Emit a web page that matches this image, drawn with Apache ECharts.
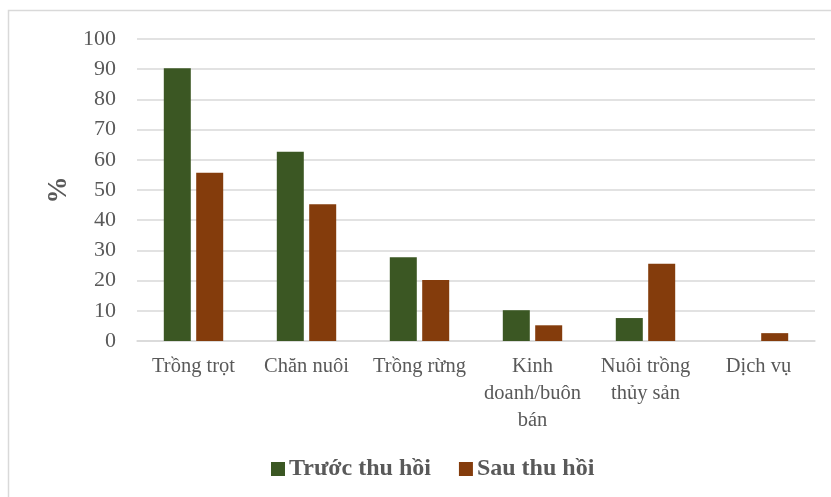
<!DOCTYPE html>
<html>
<head>
<meta charset="utf-8">
<script src="https://cdn.jsdelivr.net/npm/echarts@6/dist/echarts.min.js"></script>
<style>
  html, body { margin: 0; padding: 0; background: #fff; }
  #main { width: 831px; height: 497px; }
</style>
</head>
<body>
<div id="main"></div>
<script>
// dữ liệu
var categories = ['Trồng trọt', 'Chăn nuôi', 'Trồng rừng', 'Kinh\ndoanh/buôn\nbán', 'Nuôi trồng\nthủy sản', 'Dịch vụ'];
var truocThuHoi = [90.3, 62.7, 27.7, 10.2, 7.6, 0];
var sauThuHoi = [55.7, 45.3, 20.2, 5.2, 25.6, 2.6];
var seriesNames = ['Trước thu hồi', 'Sau thu hồi'];

var textColor = '#595959';
var fontFam = '"Liberation Serif", "Times New Roman", serif';

var myChart = echarts.init(document.getElementById('main'));
var option = {
  backgroundColor: '#fff',
  animation: false,
  textStyle: { fontFamily: fontFam },
  graphic: [{
    type: 'rect',
    shape: { x: 8.5, y: 10.5, width: 840, height: 500 },
    style: { fill: 'none', stroke: '#d9d9d9', lineWidth: 1.5 },
    silent: true
  }],
  grid: { left: 137, right: 16, top: 39, bottom: 156, containLabel: false },
  legend: {
    data: seriesNames,
    left: 266,
    top: 452,
    itemWidth: 14,
    itemHeight: 14,
    itemGap: 28,
    icon: 'rect',
    textStyle: { fontFamily: fontFam, fontSize: 24, fontWeight: 'bold', color: textColor, padding: [0, 0, 0, -1] }
  },
  xAxis: {
    type: 'category',
    data: categories,
    axisLine: { lineStyle: { color: '#d9d9d9', width: 1.5 } },
    axisTick: { show: false },
    axisLabel: {
      interval: 0,
      margin: 12,
      fontFamily: fontFam,
      fontSize: 20.5,
      lineHeight: 27,
      color: textColor
    }
  },
  yAxis: {
    type: 'value',
    min: 0,
    max: 100,
    interval: 10,
    name: '%',
    nameLocation: 'middle',
    nameGap: 64,
    nameRotate: 90,
    nameTextStyle: { fontFamily: fontFam, fontSize: 27, fontWeight: 'bold', color: textColor },
    axisLine: { show: false },
    axisTick: { show: false },
    axisLabel: { margin: 21, fontFamily: fontFam, fontSize: 22, color: textColor },
    splitLine: { lineStyle: { color: '#d9d9d9', width: 1.5 } }
  },
  series: [
    {
      name: seriesNames[0],
      type: 'bar',
      data: truocThuHoi,
      barWidth: 27,
      barGap: '20%',
      itemStyle: { color: '#3b5723' }
    },
    {
      name: seriesNames[1],
      type: 'bar',
      data: sauThuHoi,
      barWidth: 27,
      itemStyle: { color: '#843c0c' }
    }
  ]
};
option && myChart.setOption(option);
</script>
</body>
</html>
